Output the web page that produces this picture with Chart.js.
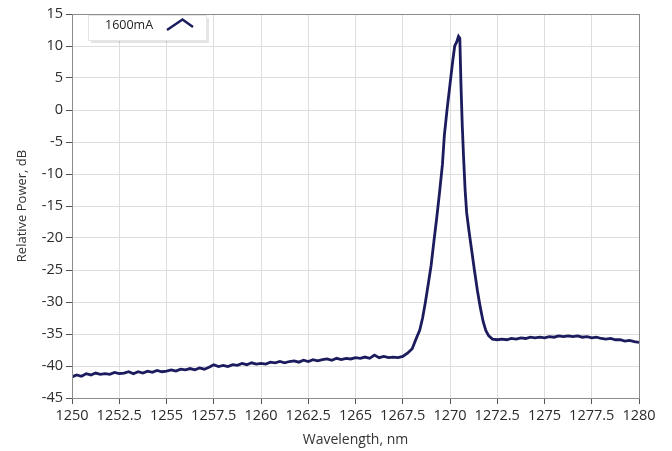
<!DOCTYPE html>
<html>
<head>
<meta charset="utf-8">
<script src="https://cdn.jsdelivr.net/npm/chart.js@4/dist/chart.umd.min.js"></script>
<style>
  html, body { margin: 0; padding: 0; background: #fff; }
  #wrap { width: 672px; height: 451px; }
</style>
</head>
<body>
<div id="wrap"><canvas id="spectrum"></canvas></div>
<script>
// Wavelength (nm) and relative power (dB)
const wavelength = [
    1250, 1250.25, 1250.5, 1250.75, 1251, 1251.25, 1251.5, 1251.75,
    1252, 1252.25, 1252.5, 1252.75, 1253, 1253.25, 1253.5, 1253.75,
    1254, 1254.25, 1254.5, 1254.75, 1255, 1255.25, 1255.5, 1255.75,
    1256, 1256.25, 1256.5, 1256.75, 1257, 1257.25, 1257.5, 1257.75,
    1258, 1258.25, 1258.5, 1258.75, 1259, 1259.25, 1259.5, 1259.75,
    1260, 1260.25, 1260.5, 1260.75, 1261, 1261.25, 1261.5, 1261.75,
    1262, 1262.25, 1262.5, 1262.75, 1263, 1263.25, 1263.5, 1263.75,
    1264, 1264.25, 1264.5, 1264.75, 1265, 1265.25, 1265.5, 1265.75,
    1266, 1266.25, 1266.5, 1266.75, 1267, 1267.25, 1267.5, 1267.75,
    1268, 1268.2, 1268.4, 1268.55, 1268.7, 1268.85, 1269, 1269.15,
    1269.3, 1269.45, 1269.6, 1269.7, 1269.85, 1270, 1270.15, 1270.25,
    1270.35, 1270.45, 1270.52, 1270.58, 1270.65, 1270.72, 1270.8, 1270.88,
    1271, 1271.15, 1271.3, 1271.45, 1271.6, 1271.75, 1271.9, 1272.05,
    1272.25, 1272.5, 1272.75, 1273, 1273.25, 1273.5, 1273.75, 1274,
    1274.25, 1274.5, 1274.75, 1275, 1275.25, 1275.5, 1275.75, 1276,
    1276.25, 1276.5, 1276.75, 1277, 1277.25, 1277.5, 1277.75, 1278,
    1278.25, 1278.5, 1278.75, 1279, 1279.25, 1279.5, 1279.75, 1280
];
const power1600 = [
    -41.7, -41.4, -41.6, -41.2, -41.4, -41.1, -41.3, -41.2,
    -41.3, -41.0, -41.2, -41.1, -40.9, -41.2, -40.9, -41.1,
    -40.8, -41.0, -40.7, -40.9, -40.8, -40.6, -40.8, -40.5,
    -40.6, -40.4, -40.6, -40.3, -40.5, -40.2, -39.8, -40.1,
    -39.9, -40.1, -39.8, -39.9, -39.6, -39.8, -39.5, -39.7,
    -39.6, -39.7, -39.4, -39.5, -39.3, -39.5, -39.3, -39.2,
    -39.4, -39.1, -39.3, -39.0, -39.2, -39.0, -38.9, -39.1,
    -38.8, -39.0, -38.8, -38.9, -38.7, -38.8, -38.6, -38.8,
    -38.3, -38.7, -38.5, -38.7, -38.6, -38.7, -38.5, -38.0,
    -37.3, -35.8, -34.4, -32.5, -30.0, -27.2, -24.3, -20.5,
    -16.8, -12.8, -8.5, -4.0, 0.2, 4.0, 7.8, 10.0,
    10.6, 11.5, 11.2, 4.0, -2.5, -7.5, -12.5, -16.0,
    -18.8, -22.0, -25.2, -28.2, -30.8, -33.0, -34.5, -35.3,
    -35.8, -35.9, -35.8, -35.9, -35.7, -35.8, -35.6, -35.7,
    -35.5, -35.6, -35.5, -35.6, -35.4, -35.5, -35.3, -35.4,
    -35.3, -35.4, -35.3, -35.5, -35.4, -35.6, -35.5, -35.7,
    -35.8, -35.7, -35.9, -35.9, -36.1, -36.0, -36.2, -36.3
];
const seriesLabel = '1600mA';
const xRange = [1250, 1280];
const yRange = [-45, 15];

const lineColor = '#1b1b5e';
const fontFamily = '"Open Sans", "Noto Sans", sans-serif';

// frame around the plot area plus the boxed legend in the top-left corner
const framePlugin = {
    id: 'frame',
    afterDraw(chart) {
        const { ctx, chartArea } = chart;
        ctx.save();
        ctx.strokeStyle = '#8c8c8c';
        ctx.lineWidth = 1;
        ctx.strokeRect(chartArea.left + 0.5, chartArea.top + 0.5,
            chartArea.width, chartArea.height);

        // legend box
        const bx = 88, by = 15, bw = 118, bh = 25;
        ctx.fillStyle = 'rgba(0,0,0,0.10)';
        ctx.fillRect(bx + 3, by + 3, bw, bh);
        ctx.fillStyle = '#ffffff';
        ctx.fillRect(bx, by, bw, bh);
        ctx.strokeStyle = '#e6e6e6';
        ctx.strokeRect(bx + 0.5, by + 0.5, bw, bh);

        ctx.fillStyle = '#222';
        ctx.font = '12.5px ' + fontFamily;
        ctx.textBaseline = 'middle';
        ctx.fillText(chart.data.datasets[0].label, bx + 17, by + 10);

        ctx.strokeStyle = lineColor;
        ctx.lineWidth = 2.5;
        ctx.beginPath();
        ctx.moveTo(bx + 79, by + 15);
        ctx.lineTo(bx + 94.5, by + 4.5);
        ctx.lineTo(bx + 105, by + 12);
        ctx.stroke();
        ctx.restore();
    }
};

const ctx = document.getElementById('spectrum').getContext('2d');
new Chart(ctx, {
    type: 'line',
    data: {
        datasets: [{
            label: seriesLabel,
            data: wavelength.map((w, i) => ({ x: w, y: power1600[i] })),
            borderColor: lineColor,
            borderWidth: 2.8,
            pointRadius: 0,
            tension: 0,
            fill: false
        }]
    },
    options: {
        responsive: true,
        maintainAspectRatio: false,
        animation: false,
        layout: { padding: { top: 14, right: 33, left: 0, bottom: 0 } },
        plugins: {
            legend: { display: false },
            tooltip: { enabled: false }
        },
        scales: {
            x: {
                type: 'linear',
                min: xRange[0],
                max: xRange[1],
                afterFit(scale) { scale.height = 53; },
                grid: { color: '#dedede', tickColor: '#555', tickLength: 6 },
                border: { display: false },
                ticks: {
                    stepSize: 2.5,
                    color: '#2b2b2b',
                    padding: 3,
                    maxRotation: 0,
                    autoSkip: false,
                    font: { family: fontFamily, size: 14.5 },
                    callback: v => String(v)
                },
                title: {
                    display: true,
                    text: 'Wavelength, nm',
                    color: '#333',
                    padding: { top: 0, bottom: 3 },
                    font: { family: fontFamily, size: 14 }
                }
            },
            y: {
                min: yRange[0],
                max: yRange[1],
                afterFit(scale) { scale.width = 72; },
                grid: { color: '#dedede', tickColor: '#555', tickLength: 6 },
                border: { display: false },
                ticks: {
                    stepSize: 5,
                    color: '#2b2b2b',
                    padding: 3,
                    font: { family: fontFamily, size: 14.5 }
                },
                title: {
                    display: true,
                    text: 'Relative Power, dB',
                    color: '#333',
                    padding: { top: 14, bottom: 0 },
                    font: { family: fontFamily, size: 13 }
                }
            }
        }
    },
    plugins: [framePlugin]
});
</script>
</body>
</html>
